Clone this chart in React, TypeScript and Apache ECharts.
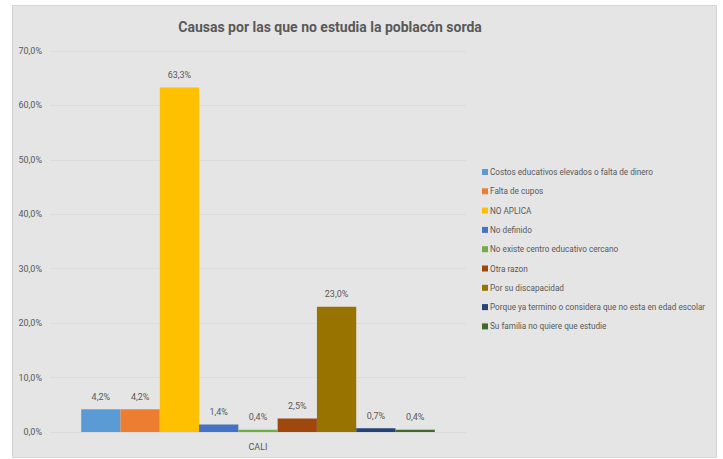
import React, { useEffect, useRef } from "react";
import * as echarts from "echarts";

const categories = ["CALI"];
const seriesNames = [
  "Costos educativos elevados o falta de dinero",
  "Falta de cupos",
  "NO APLICA",
  "No definido",
  "No existe centro educativo cercano",
  "Otra razon",
  "Por su discapacidad",
  "Porque ya termino o considera que no esta en edad escolar",
  "Su familia no quiere que estudie",
];
const seriesValues = [4.2, 4.2, 63.3, 1.4, 0.4, 2.5, 23.0, 0.7, 0.4];
const colors = ["#5B9BD5", "#ED7D31", "#FFC000", "#4472C4", "#70AD47", "#9E480E", "#997300", "#264478", "#43682B"];
const title = "Causas por las que no estudia la poblacón sorda";

const FONT = "Roboto, 'Open Sans', sans-serif";
const fmt = (v: number) => v.toFixed(1).replace(".", ",") + "%";

export default function App() {
  const ref = useRef<HTMLDivElement>(null);
  useEffect(() => {
    const chart = echarts.init(ref.current!, null, { renderer: "svg" });
    chart.setOption({
      animation: false,
      backgroundColor: "#ffffff",
      textStyle: { fontFamily: FONT },
      graphic: [
        {
          type: "rect",
          z: -10,
          shape: { x: 12.5, y: 5.5, width: 704, height: 452 },
          style: { fill: "#e5e5e5", stroke: "#d4d4d4", lineWidth: 1 },
          silent: true,
        },
      ],
      title: {
        text: title,
        left: 325,
        textAlign: "center",
        top: 15,
        textStyle: { fontFamily: FONT, fontSize: 14, fontWeight: "bold", color: "#595959" },
      },
      legend: {
        orient: "vertical",
        left: 477,
        top: 162,
        itemWidth: 6,
        itemHeight: 6,
        itemGap: 9.3,
        icon: "rect",
        data: seriesNames,
        textStyle: { fontFamily: FONT, fontSize: 8.2, lineHeight: 10, color: "#595959", padding: [0, 0, 0, -3] },
      },
      grid: { left: 50, right: 257, top: 51, bottom: 27, containLabel: false },
      xAxis: {
        type: "category",
        data: categories,
        axisLine: { show: false },
        axisTick: { show: false },
        axisLabel: { color: "#595959", fontSize: 9, margin: 10, fontFamily: FONT },
      },
      yAxis: {
        type: "value",
        min: 0,
        max: 70,
        interval: 10,
        axisLine: { show: false },
        axisTick: { show: false },
        splitLine: { lineStyle: { color: "#dcdcdc", width: 1 } },
        axisLabel: { color: "#595959", fontSize: 9, margin: 8, fontFamily: FONT, formatter: (v: number) => fmt(v) },
      },
      series: seriesNames.map((name, i) => ({
        name,
        type: "bar",
        data: [seriesValues[i]],
        itemStyle: { color: colors[i] },
        barGap: "0%",
        barCategoryGap: "15%",
        label: {
          show: true,
          position: "top",
          distance: 8,
          color: "#595959",
          fontSize: 9,
          fontFamily: FONT,
          formatter: (p: any) => fmt(p.value),
        },
      })),
    });
    return () => chart.dispose();
  }, []);
  return <div ref={ref} style={{ position: "fixed", left: 0, top: 0, width: 723, height: 459 }} />;
}
